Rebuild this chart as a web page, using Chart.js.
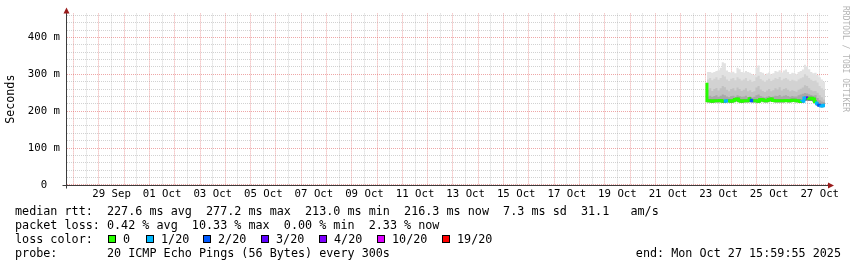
<!DOCTYPE html>
<html>
<head>
<meta charset="utf-8">
<script src="https://cdn.jsdelivr.net/npm/chart.js@4"></script>
<style>
  body { margin: 0; background: #fff; }
  #wrap { position: relative; width: 857px; height: 267px; background: #fff; overflow: hidden; }
  #c { position: absolute; left: 0; top: 0; }
  .lg { position: absolute; font-family: 'DejaVu Sans Mono', monospace; font-size: 11.75px; line-height: 14px; color: #000; white-space: pre; }
  .box { position: absolute; width: 8px; height: 8px; box-sizing: border-box; border: 1px solid #000; }
  #wm { position: absolute; left: 841px; top: 6px; writing-mode: vertical-rl; font-family: 'DejaVu Sans Mono', monospace; font-size: 8px; color: #b4b4b4; white-space: pre; }
</style>
</head>
<body>
<div id="wrap">
  <canvas id="c" width="857" height="267"></canvas>
  <div id="wm">RRDTOOL / TOBI OETIKER</div>
  <div class="lg" style="left:15px; top:204px">median rtt:  227.6 ms avg  277.2 ms max  213.0 ms min  216.3 ms now  7.3 ms sd  31.1   am/s</div>
  <div class="lg" style="left:15px; top:218px">packet loss: 0.42 % avg  10.33 % max  0.00 % min  2.33 % now</div>
  <div class="lg" style="left:15px; top:232px">loss color:</div>
  <div id="losslegend"></div>
  <div class="lg" style="left:15px; top:246px">probe:       20 ICMP Echo Pings (56 Bytes) every 300s</div>
  <div class="lg" style="right:16px; top:246px">end: Mon Oct 27 15:59:55 2025</div>
</div>
<script>
// time axis: hours since 28 Sep 00:00
const startHour = 601;
const stepHours = 2;

// smoke layers, ms (outermost first)
const smoke1 = [395,306,306,304,306,309,311,318,333,330,310,306,305,307,303,318,314,306,305,309,306,304,300,298,318,324,306,304,299,302,305,300,303,309,307,311,305,310,313,306,301,304,303,300,306,309,313,326,322,314,306,303,304,298,292,286,280];
const smoke2 = [300,286,290,284,288,292,285,290,298,294,286,282,288,290,284,292,288,283,286,290,282,285,280,282,292,296,287,283,280,284,288,282,285,290,287,293,284,288,290,286,282,285,283,281,286,289,292,300,296,290,285,282,283,278,268,262,258];
const smoke3 = [292,258,262,255,260,263,256,262,268,265,258,254,260,262,256,264,260,255,258,262,254,257,252,254,264,268,259,255,252,256,260,254,257,262,259,265,256,260,262,258,254,257,255,253,258,261,264,270,268,262,257,254,255,250,243,238,232];
const smoke4 = [288,240,242,239,241,243,239,242,245,243,240,238,241,242,239,243,241,239,240,242,238,240,237,239,243,245,241,239,237,239,241,238,240,242,241,244,240,242,243,241,239,241,240,240,243,245,247,249,248,246,244,242,243,236,230,226,224];
const smoke5 = [286,232,232,231,232,232,232,233,231,231,232,232,231,232,236,237,232,231,232,232,232,238,232,232,232,231,236,235,232,232,236,237,233,232,232,232,232,232,233,232,232,234,234,232,232,230,231,240,240,239,239,237,230,224,220,218,220];
const smokeBottom = [224,224,224,223,224,224,224,225,223,223,224,224,223,224,226,227,224,223,224,224,224,226,224,224,224,223,226,226,224,224,226,227,225,224,224,224,224,224,225,224,224,225,225,224,224,222,223,228,229,228,228,226,221,215,212,211,213];
const medianRtt = [277,228,228,227,228,228,228,229,227,227,228,228,227,228,232,233,228,227,228,228,228,234,228,228,228,227,232,231,228,228,232,233,229,228,228,228,228,228,229,228,228,230,230,228,228,226,227,236,236,235,235,233,226,220,216,214,216];
const lostPings = [0,0,0,0,0,0,0,0,1,1, 0,0,0,0,0,0,0,0,0,0, 0,2,0,0,0,0,0,0,0,0, 0,0,0,0,0,0,0,0,0,0, 0,0,0,0,0,1,1,3,0,0, 0,0,1,2,1,1,1];

// loss legend
const lossLabels = ['0', '1/20', '2/20', '3/20', '4/20', '10/20', '19/20'];
const lossThresholds = [0, 1, 2, 3, 4, 10, 19];
const lossColors = ['#26ff00', '#00b8ff', '#0059ff', '#5e00ff', '#7e00ff', '#dd00ff', '#ff0000'];
const lossBoxX = [108, 146, 203, 261, 319, 377, 442];

// axis labels
const yTickValues = [0, 100, 200, 300, 400];
const yTickLabels = ['0  ', '100 m', '200 m', '300 m', '400 m'];
const xLabels = ['29 Sep', '01 Oct', '03 Oct', '05 Oct', '07 Oct', '09 Oct', '11 Oct', '13 Oct',
                 '15 Oct', '17 Oct', '19 Oct', '21 Oct', '23 Oct', '25 Oct', '27 Oct'];

const smokeColors = ['#e2e2e2', '#d2d2d2', '#c1c1c1', '#a8a8a8', '#767676'];
const minorGrid = 'rgba(143,143,143,0.4)';
const majorGrid = 'rgba(222,80,80,0.5)';

function lossColor(n) {
    let c = lossColors[0];
    lossThresholds.forEach((t, i) => { if (n >= t) c = lossColors[i]; });
    return c;
}

function pts(arr) {
    return arr.map((v, i) => ({ x: startHour + i * stepHours, y: v }));
}

// legend boxes
const ll = document.getElementById('losslegend');
lossLabels.forEach((lab, i) => {
    const b = document.createElement('div');
    b.className = 'box';
    b.style.left = lossBoxX[i] + 'px';
    b.style.top = '235px';
    b.style.background = lossColors[i];
    ll.appendChild(b);
    const t = document.createElement('div');
    t.className = 'lg';
    t.style.left = (lossBoxX[i] + 15) + 'px';
    t.style.top = '232px';
    t.textContent = lab;
    ll.appendChild(t);
});

const smokeSets = [smoke1, smoke2, smoke3, smoke4, smoke5].map((arr, i) => ({
    data: pts(arr),
    borderColor: 'rgba(0,0,0,0)',
    borderWidth: 0,
    backgroundColor: smokeColors[i],
    fill: { target: 0 },
    stepped: 'after',
    pointRadius: 0,
    order: 9 - i
}));

const axisPlugin = {
    id: 'rrdAxes',
    afterDraw(chart) {
        const { ctx, chartArea: a } = chart;
        const x0 = Math.floor(a.left) - 0.5;
        const y0 = Math.round(a.bottom) + 0.5;
        ctx.save();
        ctx.strokeStyle = '#3c3c3c';
        ctx.lineWidth = 1;
        ctx.beginPath();
        ctx.moveTo(x0, y0 + 3);
        ctx.lineTo(x0, a.top - 2);
        ctx.moveTo(x0 - 4, y0);
        ctx.lineTo(a.right + 1, y0);
        ctx.stroke();
        ctx.fillStyle = '#9a1c1c';
        ctx.beginPath();
        ctx.moveTo(x0, a.top - 6);
        ctx.lineTo(x0 - 3, a.top);
        ctx.lineTo(x0 + 3, a.top);
        ctx.closePath();
        ctx.fill();
        ctx.beginPath();
        ctx.moveTo(a.right + 5, y0);
        ctx.lineTo(a.right - 1, y0 - 3);
        ctx.lineTo(a.right - 1, y0 + 3);
        ctx.closePath();
        ctx.fill();
        ctx.restore();
    }
};

const tickFont = { family: 'DejaVu Sans Mono', size: 10.7 };

new Chart(document.getElementById('c'), {
    type: 'line',
    data: {
        datasets: [
            { data: pts(smokeBottom), borderColor: 'rgba(0,0,0,0)', borderWidth: 0, fill: false, stepped: 'after', pointRadius: 0, order: 10 },
            ...smokeSets,
            {
                data: pts(medianRtt),
                borderColor: lossColors[0],
                borderWidth: 3,
                borderCapStyle: 'butt',
                fill: false,
                stepped: 'after',
                pointRadius: 0,
                order: 1,
                segment: { borderColor: c => lossColor(lostPings[c.p0DataIndex]) }
            }
        ]
    },
    options: {
        responsive: false,
        devicePixelRatio: 1,
        animation: false,
        events: [],
        layout: { padding: { left: 0, top: 13, right: 28, bottom: 0 } },
        plugins: { legend: { display: false }, tooltip: { enabled: false } },
        scales: {
            x: {
                type: 'linear',
                min: -6.26,
                max: 716.8,
                afterFit: s => { s.height = 82; },
                afterBuildTicks: s => {
                    const t = [];
                    for (let h = 0; h <= s.max; h += 12) t.push({ value: h });
                    s.ticks = t;
                },
                grid: {
                    color: c => (c.tick && c.tick.value % 24 === 0) ? majorGrid : minorGrid,
                    drawTicks: false
                },
                border: { display: false, dash: [1, 1] },
                ticks: {
                    autoSkip: false,
                    maxRotation: 0,
                    padding: 3,
                    color: '#000',
                    font: tickFont,
                    callback: v => {
                        if (v % 48 !== 36) return '';
                        return xLabels[(v - 36) / 48] || '';
                    }
                }
            },
            y: {
                min: 0,
                max: 465,
                afterFit: s => { s.width = 67; },
                afterBuildTicks: s => {
                    const t = [];
                    for (let v = 0; v <= 460; v += 20) t.push({ value: v });
                    s.ticks = t;
                },
                grid: {
                    color: c => (c.tick && c.tick.value % 100 === 0) ? majorGrid : minorGrid,
                    drawTicks: false
                },
                border: { display: false, dash: [1, 1] },
                title: {
                    display: true,
                    text: 'Seconds',
                    color: '#000',
                    font: { family: 'DejaVu Sans Mono', size: 11.7 },
                    padding: { top: 4, bottom: 0 }
                },
                ticks: {
                    autoSkip: false,
                    padding: 7,
                    color: '#000',
                    font: tickFont,
                    callback: v => {
                        const k = yTickValues.indexOf(v);
                        return k >= 0 ? yTickLabels[k] : '';
                    }
                }
            }
        }
    },
    plugins: [axisPlugin]
});
</script>
</body>
</html>
